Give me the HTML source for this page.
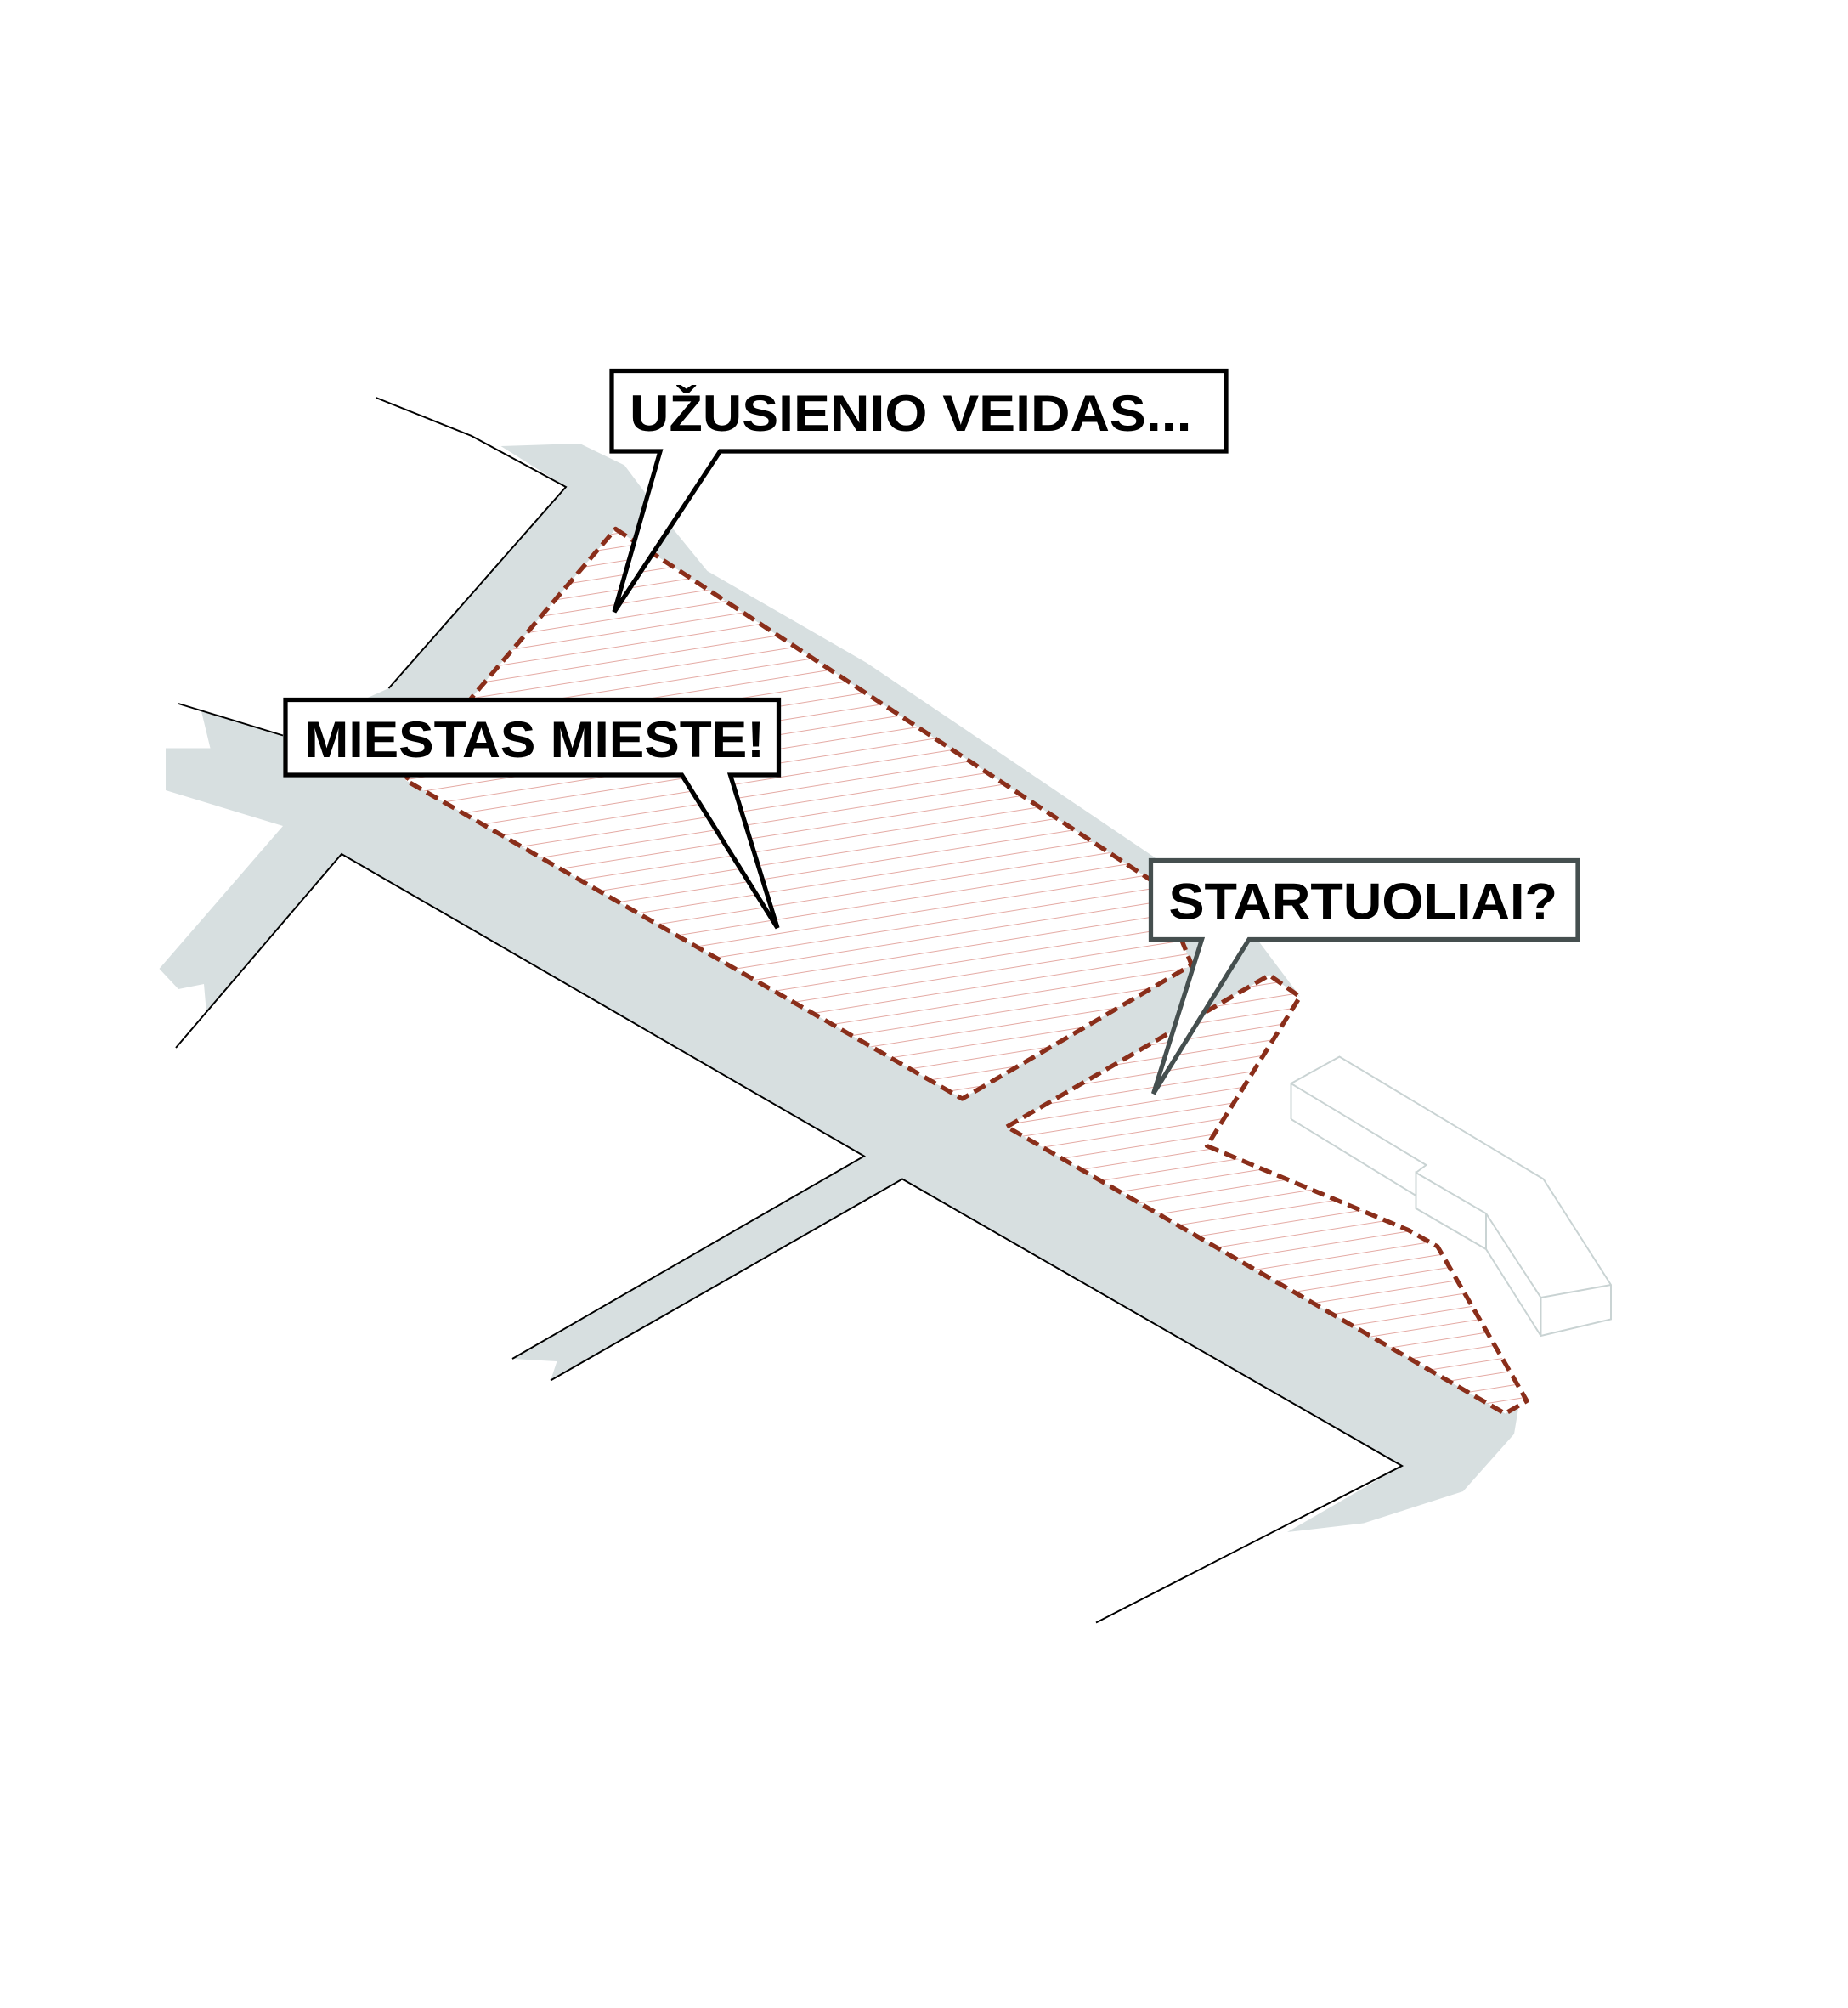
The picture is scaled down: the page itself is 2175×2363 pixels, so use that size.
<!DOCTYPE html>
<html><head><meta charset="utf-8"><style>html,body{margin:0;padding:0;background:#fff}svg{display:block}</style></head>
<body>
<svg width="2175" height="2363" viewBox="0 0 1450 1575.33" xmlns="http://www.w3.org/2000/svg">
<defs>
<pattern id="h" patternUnits="userSpaceOnUse" width="40" height="11" patternTransform="rotate(-9)">
<rect width="40" height="11" fill="#fff"/>
<line x1="0" y1="5" x2="40" y2="5" stroke="#e4aaa4" stroke-width="0.6"/>
</pattern>
</defs>
<polygon fill="#d7dfe0" points="393,350 455,348 490,365 520,405 555,448 680,520 905,672 985,735 1015,775 1020,782 947,899 1105,965 1128,978 1193,1095 1188,1125 1148,1170 1070,1195 1010,1202 1100,1150 708,925 432,1083 437,1068 402,1066 678,907 268,670 162,795 160,772 140,776 125,760 222,648 130,620 130,587 165,587 158,558 222,577 305,540 444,382"/>
<g fill="url(#h)" stroke="#8a2e1a" stroke-width="3.5" stroke-dasharray="10,5" stroke-linejoin="round">
<polygon points="483,415 910,695 935,757 755,862 318,612 372,545"/>
<polygon points="790,884 996,765 1020,782 947,899 1105,965 1128,978 1198,1099 1181,1109"/>
</g>
<g fill="none" stroke="#c9d3d3" stroke-width="1.3">
<polyline points="1013,878 1013,850 1051,829 1211,925 1264,1008 1264,1035 1209,1048 1166,980 1166,952 1111,920 1111,948 1166,980"/>
<polyline points="1013,850 1119,914 1111,920"/>
<polyline points="1013,878 1111,938"/>
<polyline points="1166,952 1209,1018 1209,1048"/>
<polyline points="1209,1018 1264,1008"/>
</g>
<g fill="none" stroke="#000" stroke-width="1.3">
<polyline points="295,312 370,342 444,382 305,540"/>
<polyline points="140,552 222,577"/>
<polyline points="138,822 268,670 678,907 402,1066"/>
<polyline points="432,1083 708,925 1100,1150 860,1273"/>
</g>
<g font-family="Liberation Sans, sans-serif" font-weight="bold" font-size="40">
<polygon points="480,291 962,291 962,354 565,354 482,480 518,354 480,354" fill="#fff" stroke="#000" stroke-width="3.5" stroke-linejoin="miter"/>
<text x="494" y="338" textLength="441" lengthAdjust="spacingAndGlyphs">UŽUSIENIO VEIDAS...</text>
<polygon points="224,549 611,549 611,608 573,608 610,728 535,608 224,608" fill="#fff" stroke="#000" stroke-width="3.5"/>
<text x="239" y="594" textLength="361" lengthAdjust="spacingAndGlyphs">MIESTAS MIESTE!</text>
<polygon points="903,675 1238,675 1238,737 980,737 905,858 943,737 903,737" fill="#fff" stroke="#454f4f" stroke-width="3.5"/>
<text x="917" y="721" textLength="305" lengthAdjust="spacingAndGlyphs">STARTUOLIAI?</text>
</g>
</svg>
</body></html>
